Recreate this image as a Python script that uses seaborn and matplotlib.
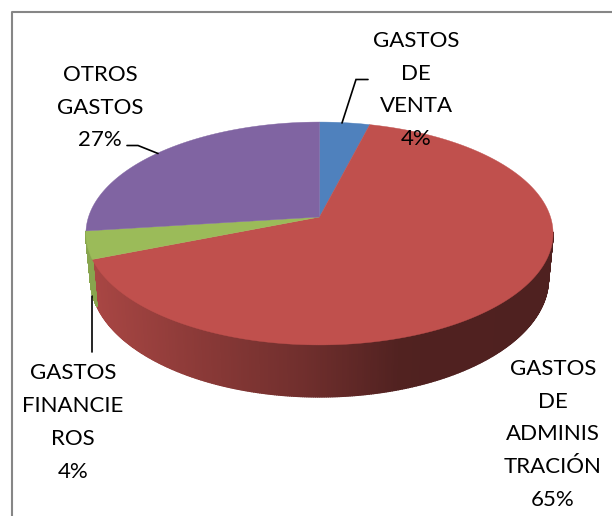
import numpy as np
import matplotlib
matplotlib.use("Agg")
import matplotlib.pyplot as plt
from matplotlib.collections import PolyCollection
import seaborn as sns

# data
categories = ["GASTOS\nDE\nVENTA", "GASTOS\nDE\nADMINIS\nTRACIÓN", "GASTOS\nFINANCIE\nROS", "OTROS\nGASTOS"]
percents = [4, 65, 4, 27]
colors = sns.color_palette(["#4F81BD", "#C0504D", "#9BBB59", "#8064A2"])

# where each label sits (centre, pixels) and its leader line
label_pos = [(416, 90), (553, 434.5), (73, 422.5), (100, 107.5)]
leaders = [
    [(368, 79.5), (356, 79.5), (342, 123)],
    None,
    [(92, 296), (92, 352)],
    [(127, 145.5), (138, 145.5), (158, 153.5)],
]

sns.set_theme(style="white")
plt.rcParams["font.family"] = ["Lato", "DejaVu Sans"]

# pie geometry, tilted disc with a bit of perspective
cx, cy = 319.5, 217.0
A, B, k = 231.0, 109.0, 0.148
depth = 44.3
taper = 0.98


def project(angle, drop=0.0):
    u, v = np.sin(angle), -np.cos(angle)
    w = 1 - k * v
    x = A * u / w
    if drop:
        x = x * taper
    return cx + x, cy + (B * v + drop) / w


def side_shade(x):
    return np.interp(x, [90, 200, 306, 400, 560], [0.88, 0.72, 0.58, 0.42, 0.41])


fig = plt.figure(figsize=(6.12, 5.16), dpi=100, facecolor="white")
ax = fig.add_axes([0, 0, 1, 1])
ax.set_xlim(0, 612)
ax.set_ylim(516, 0)
ax.axis("off")

# chart frame, only top and left are inside the crop
ax.plot([12, 12, 612], [516, 12, 12], color="#868686", lw=1.5, solid_capstyle="butt")

edges = np.cumsum([0] + percents) / sum(percents) * 2 * np.pi

# rim first, then the top face over it
for i, color in enumerate(colors):
    t = np.linspace(edges[i], edges[i + 1], 500)
    x, y = project(t)
    xd, yd = project(t, depth)
    polys, cols = [], []
    for j in range(len(t) - 1):
        if -np.cos(t[j]) < 0.13:
            continue
        polys.append([(x[j], y[j]), (x[j + 1], y[j + 1]), (xd[j + 1], yd[j + 1]), (xd[j], yd[j])])
        s = side_shade((x[j] + x[j + 1]) / 2)
        cols.append(tuple(c * s for c in color))
    if polys:
        ax.add_collection(PolyCollection(polys, facecolors=cols, edgecolors=cols, linewidths=1.0))

for i, color in enumerate(colors):
    t = np.linspace(edges[i], edges[i + 1], 200)
    x, y = project(t)
    ax.fill(np.r_[cx, x], np.r_[cy, y], color=color, lw=0.3)

for line in leaders:
    if line:
        ax.plot(*zip(*line), color="black", lw=1.2, solid_joinstyle="miter")

for name, pct, (lx, ly) in zip(categories, percents, label_pos):
    ax.text(lx, ly, f"{name}\n{pct}%", ha="center", va="center", fontsize=16,
            color="black", linespacing=1.81, zorder=5)

fig.savefig("out.png", dpi=100)
